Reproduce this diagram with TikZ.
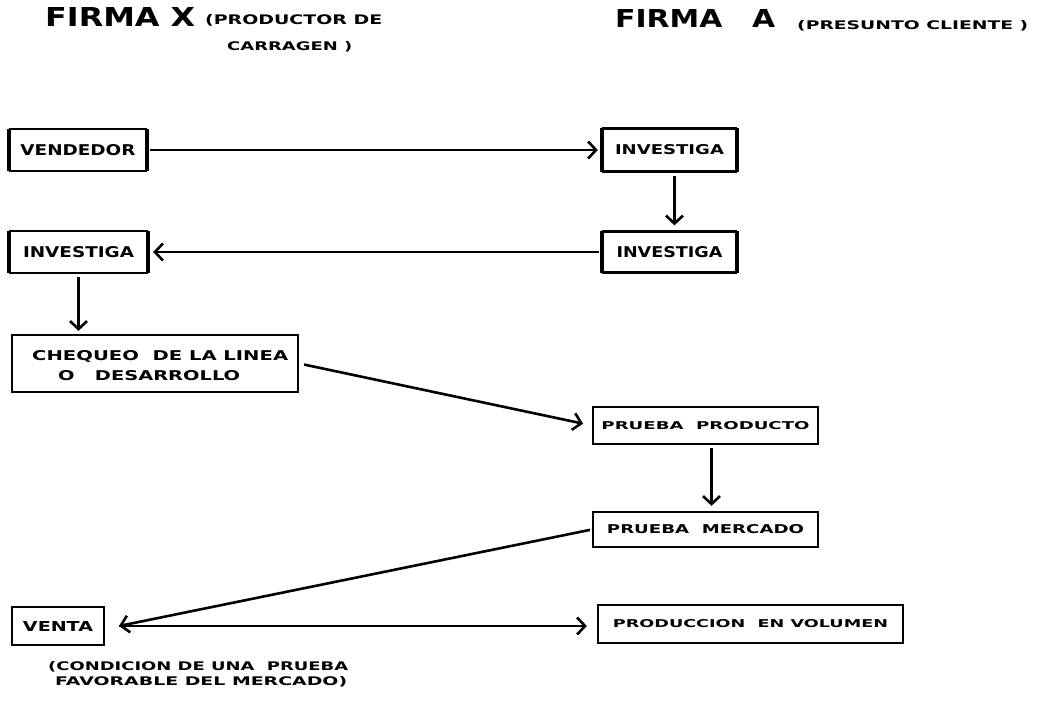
\documentclass[tikz,border=0pt]{standalone}
\usepackage{fontspec}
\setmainfont{DejaVu Sans}
\usetikzlibrary{arrows.meta}
\newcommand\fitt[3]{\resizebox{#1pt}{#2pt}{#3}}
\begin{document}
\begin{tikzpicture}[x=1pt,y=-1pt,
  boxnode/.style={draw, line width=2.3pt, inner sep=0pt, font=\bfseries, minimum width=#1},
  txt/.style={inner sep=0pt, anchor=base west},
  arr/.style={line width=2.6pt, -{Straight Barb[length=8pt,width=17pt,line width=2.6pt]}}
]
\useasboundingbox (0,0) rectangle (1037,701);
% titles
\node[txt, font=\bfseries] (tx) at (45,27) {\fitt{150}{19}{FIRMA X}};
\node[txt, font=\bfseries] (tx1) at (205,25) {\fitt{177}{10}{(PRODUCTOR DE}};
\node[txt, font=\bfseries] (tx2) at (227,51) {\fitt{125}{9}{CARRAGEN )}};
\node[txt, font=\bfseries] (ta) at (615,28) {\fitt{160}{18}{FIRMA\quad A}};
\node[txt, font=\bfseries] (ta1) at (797,30) {\fitt{231}{9}{(PRESUNTO CLIENTE )}};
% boxes
\node[boxnode=136pt, minimum height=42pt] (vend) at (78,150) {\fitt{115}{11}{VENDEDOR}};
\node[boxnode=133pt, minimum height=43pt] (inv1) at (669.5,150) {\fitt{109}{10}{INVESTIGA}};
\node[boxnode=133pt, minimum height=41pt] (inv2) at (669.5,252) {\fitt{106}{11}{INVESTIGA}};
\node[boxnode=137pt, minimum height=42pt] (inv3) at (78.5,252) {\fitt{111}{11}{INVESTIGA}};
\node[boxnode=286pt, minimum height=57pt] (cheq) at (155,363.5) {};
\node[txt, font=\bfseries] (cheqa) at (32,360) {\fitt{256}{10}{CHEQUEO\ \ DE LA LINEA}};
\node[txt, font=\bfseries] (cheqb) at (58,380) {\fitt{182}{10}{O\ \ \ DESARROLLO}};
\node[boxnode=225pt, minimum height=37pt] (pprod) at (705.5,425.5) {\fitt{208}{8}{PRUEBA\ \ PRODUCTO}};
\node[boxnode=225pt, minimum height=35pt] (pmerc) at (705.5,529.5) {\fitt{197}{9}{PRUEBA\ \ MERCADO}};
\node[boxnode=92pt, minimum height=38pt] (venta) at (58,626) {\fitt{70}{10}{VENTA}};
\node[boxnode=305pt, minimum height=38pt] (prodv) at (750.5,624) {\fitt{275}{8}{PRODUCCION\ \ EN VOLUMEN}};
% caption
\node[txt, font=\bfseries] (capa) at (48,670) {\fitt{300}{9}{(CONDICION DE UNA\ \ PRUEBA}};
\node[txt, font=\bfseries] (capb) at (55,685) {\fitt{292}{9}{FAVORABLE DEL MERCADO)}};
% bracket sides
\foreach \n in {vend,inv1,inv2,inv3}{
  \draw[line width=3.6pt] ([yshift=-1pt]\n.north west) -- ([yshift=1pt]\n.south west);
  \draw[line width=3.6pt] ([yshift=-1pt]\n.north east) -- ([yshift=1pt]\n.south east);
}
% connectors
\draw[arr, shorten <=3pt, shorten >=4pt] (vend.east) -- (inv1.west);
\draw[arr, shorten <=3pt, shorten >=5pt] ([xshift=5pt]inv1.south) -- ([xshift=5pt]inv2.north);
\draw[arr, shorten <=3pt, shorten >=5pt] (inv2.west) -- (inv3.east);
\draw[arr, shorten <=3pt, shorten >=3pt] (inv3.south) -- (inv3.south |- cheq.north);
\draw[arr, shorten <=5pt, shorten >=9pt] (cheq.east) -- (pprod.west);
\draw[arr, shorten <=3pt, shorten >=5pt] ([xshift=6pt]pprod.south) -- ([xshift=6pt]pmerc.north);
\coordinate (vtip) at (119,626);
\draw[arr, shorten <=2pt] (pmerc.west) -- (vtip);
\draw[arr, shorten >=10pt] (vtip) -- (vtip -| prodv.west);
\end{tikzpicture}
\end{document}
